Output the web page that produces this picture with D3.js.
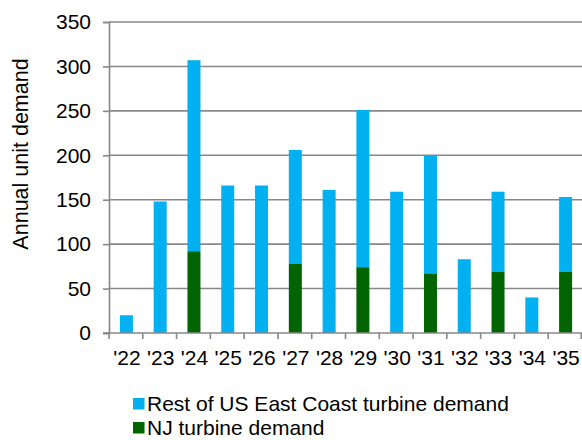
<!DOCTYPE html>
<html>
<head>
<meta charset="utf-8">
<script src="https://cdn.jsdelivr.net/npm/d3@7"></script>
<style>
  body { margin: 0; background: #fff; }
  svg { display: block; font-family: "Liberation Sans", Arial, sans-serif; }
</style>
</head>
<body>
<div class="canvas"></div>
<script>
// what to show
var years = ["'22", "'23", "'24", "'25", "'26", "'27", "'28", "'29", "'30", "'31", "'32", "'33", "'34", "'35"];
var nj = [0, 0, 92, 0, 0, 78, 0, 74, 0, 67, 0, 69, 0, 69];
var rest = [20, 148, 215, 166, 166, 128, 161, 177, 159, 133, 83, 90, 40, 84];
var yTicks = [0, 50, 100, 150, 200, 250, 300, 350];
var seriesNames = ["Rest of US East Coast turbine demand", "NJ turbine demand"];
var colors = ["#00b0f0", "#006400"];

// where does it live
var width = 582, height = 440,
    margin = { top: 22, right: 0, bottom: 107, left: 109 };

var svg = d3.select('.canvas').append('svg')
    .attr('width', width)
    .attr('height', height);

var x = d3.scaleBand()
    .domain(years)
    .range([margin.left, width - margin.right]);

var y = d3.scaleLinear()
    .domain([0, 350])
    .range([height - margin.bottom, margin.top]);

// gridlines
svg.append('g')
    .selectAll('line')
    .data(yTicks.slice(1))
    .enter()
    .append('line')
    .attr('x1', margin.left)
    .attr('x2', width - margin.right)
    .attr('y1', function (d) { return y(d); })
    .attr('y2', function (d) { return y(d); })
    .attr('stroke', '#888')
    .attr('stroke-width', 1.6);

// stacked bars
var rows = years.map(function (yr, i) {
    return { year: yr, nj: nj[i], rest: rest[i] };
});
var stack = d3.stack().keys(['rest', 'nj']).order(d3.stackOrderReverse);
var layers = stack(rows);

var barW = 13;
svg.append('g')
    .selectAll('g')
    .data(layers)
    .enter()
    .append('g')
    .attr('fill', function (d, i) { return colors[i]; })
    .selectAll('rect')
    .data(function (d) { return d; })
    .enter()
    .append('rect')
    .attr('x', function (d) { return x(d.data.year) + x.bandwidth() / 2 - barW / 2 + 0.5; })
    .attr('width', barW)
    .attr('y', function (d) { return y(d[1]); })
    .attr('height', function (d) { return y(d[0]) - y(d[1]); });

// y axis
var yAxis = svg.append('g')
    .attr('transform', 'translate(' + margin.left + ',0)')
    .call(d3.axisLeft(y).tickValues(yTicks).tickSize(6).tickPadding(12));
yAxis.select('.domain').attr('stroke', '#888').attr('stroke-width', 1.6);
yAxis.selectAll('.tick line').attr('stroke', '#888').attr('stroke-width', 1.6);
yAxis.selectAll('text').attr('font-size', 21).attr('fill', '#000')
    .attr('font-family', '"Liberation Sans", Arial, sans-serif');

// x axis
var xAxis = svg.append('g')
    .attr('transform', 'translate(0,' + y(0) + ')');
xAxis.append('line')
    .attr('x1', margin.left - 6)
    .attr('x2', width - margin.right)
    .attr('stroke', '#888')
    .attr('stroke-width', 1.6);
xAxis.selectAll('.tk')
    .data(years.concat(['end']))
    .enter()
    .append('line')
    .attr('x1', function (d) { return d === 'end' ? width - margin.right - 0.8 : x(d); })
    .attr('x2', function (d) { return d === 'end' ? width - margin.right - 0.8 : x(d); })
    .attr('y1', 0)
    .attr('y2', 6)
    .attr('stroke', '#888')
    .attr('stroke-width', 1.6);
xAxis.selectAll('text')
    .data(years)
    .enter()
    .append('text')
    .attr('x', function (d) { return x(d) + x.bandwidth() / 2 + 1; })
    .attr('y', 32)
    .attr('text-anchor', 'middle')
    .attr('font-size', 21)
    .text(function (d) { return d; });

// y title
svg.append('text')
    .attr('transform', 'translate(28,' + 154 + ') rotate(-90)')
    .attr('text-anchor', 'middle')
    .attr('font-size', 21.5)
    .text('Annual unit demand');

// legend
var legend = svg.append('g')
    .selectAll('g')
    .data(seriesNames)
    .enter()
    .append('g')
    .attr('transform', function (d, i) { return 'translate(133,' + (404 + i * 24) + ')'; });
legend.append('rect')
    .attr('x', 0)
    .attr('y', -6)
    .attr('width', 11.5)
    .attr('height', 11.5)
    .attr('fill', function (d, i) { return colors[i]; });
legend.append('text')
    .attr('x', 14)
    .attr('y', 7)
    .attr('font-size', 21)
    .text(function (d) { return d; });
</script>
</body>
</html>
